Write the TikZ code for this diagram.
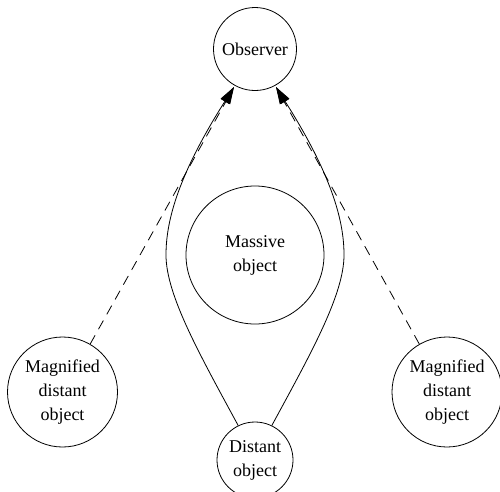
\documentclass[tikz,border=0pt]{standalone}
\usepackage{fontspec}
\setmainfont{Liberation Serif}
\usetikzlibrary{arrows.meta}
\tikzset{
  body/.style={draw, circle, line width=0.8pt, inner sep=0pt, align=center,
    font=\fontsize{18}{24}\selectfont},
  ray/.style={line width=0.8pt, -{Triangle[length=17pt,width=10pt]}},
  seen/.style={ray, dash pattern=on 10pt off 7pt},
}
\begin{document}
\begin{tikzpicture}[x=1pt,y=-1pt]
\useasboundingbox (0,0) rectangle (500,491);
\clip (0,0) rectangle (500,491);
\node[body, minimum size=83pt] (obs) at (255,49) {Observer};
\node[body, minimum size=138pt] (mass) at (255,255) {Massive\\object};
\node[body, minimum size=110pt] (magL) at (62.5,392) {Magnified\\distant\\object};
\node[body, minimum size=110pt] (magR) at (447,392) {Magnified\\distant\\object};
\node[body, minimum size=76pt] (dist) at (255,460) {Distant\\object};
\coordinate (tipL) at (234,87);
\coordinate (tipR) at (276,87);
\draw[ray] (dist.116) .. controls (200,355) and (166,295) .. (166,255)
   .. controls (166,225) and (175,180) .. (tipL);
\draw[ray] (dist.64) .. controls (310,355) and (344,295) .. (344,255)
   .. controls (344,225) and (335,180) .. (tipR);
\draw[seen] (magL.60) -- (tipL);
\draw[seen] (magR.120) -- (tipR);
\end{tikzpicture}
\end{document}
